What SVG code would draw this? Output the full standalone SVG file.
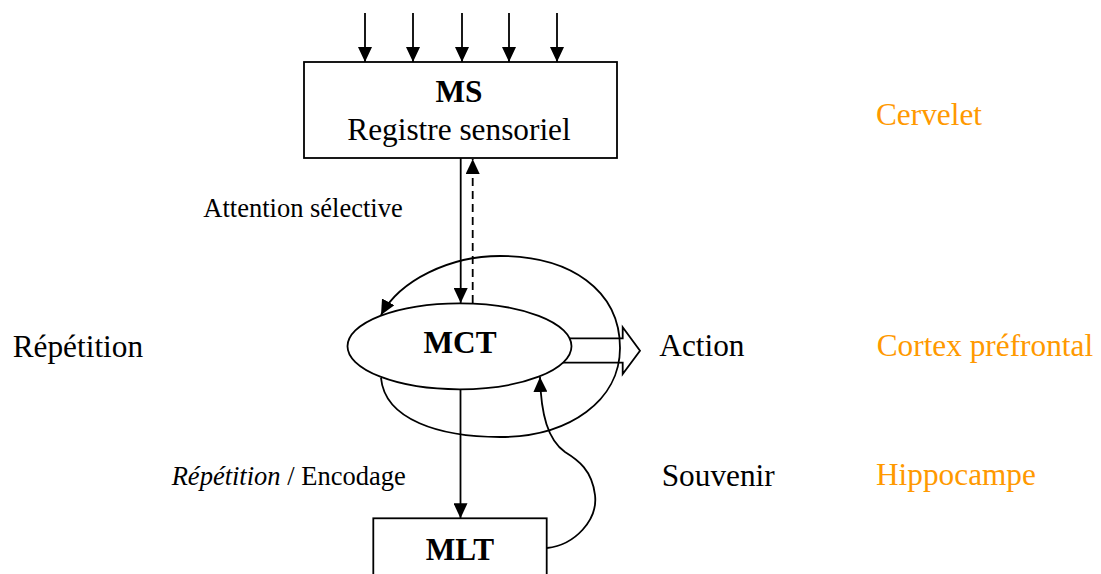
<svg xmlns="http://www.w3.org/2000/svg" width="1101" height="574" viewBox="0 0 1101 574">
<style>
text{font-family:"Liberation Serif","Times New Roman",serif;font-size:31.3px;fill:#000}
.b{font-weight:bold}
.s{font-size:26.5px}
.o{fill:#FF9900}
.ln{fill:none;stroke:#000;stroke-width:1.8}
.box{fill:#fff;stroke:#000;stroke-width:1.8}
</style>
<defs>
<marker id="ah" viewBox="0 0 15 14" refX="15" refY="7" markerWidth="15" markerHeight="14" markerUnits="userSpaceOnUse" orient="auto">
<path d="M0,0 L15,7 L0,14 Z" fill="#000"/>
</marker>
</defs>
<rect width="1101" height="574" fill="#fff"/>
<g id="connectors">
<line class="ln" x1="365" y1="13" x2="365" y2="62" marker-end="url(#ah)"/>
<line class="ln" x1="413" y1="13" x2="413" y2="62" marker-end="url(#ah)"/>
<line class="ln" x1="462" y1="13" x2="462" y2="62" marker-end="url(#ah)"/>
<line class="ln" x1="509" y1="13" x2="509" y2="62" marker-end="url(#ah)"/>
<line class="ln" x1="557" y1="13" x2="557" y2="62" marker-end="url(#ah)"/>
<line class="ln" x1="460.7" y1="158" x2="460.7" y2="303" marker-end="url(#ah)"/>
<line class="ln" x1="472.7" y1="303" x2="472.7" y2="159" stroke-dasharray="8,5" marker-end="url(#ah)"/>
<polygon class="ln" points="560,338.3 622.7,338.3 622.7,327.3 640,350.7 622.7,374 622.7,362.7 560,362.7"/>
<line class="ln" x1="460.5" y1="389" x2="460.5" y2="518.3" marker-end="url(#ah)"/>
</g>
<g id="MCT">
<ellipse class="box" cx="459.5" cy="346.3" rx="112" ry="43"/>
<text class="b" x="460" y="353.3" text-anchor="middle">MCT</text>
</g>
<g id="loops">
<path class="ln" d="M381,378 C385,420 440,437 500,437 C570,437 620,400 620,348 C620,290 570,256 500,256 C450,256 400,280 381,315" marker-end="url(#ah)"/>
<path class="ln" d="M547,548 C575,545 598,520 595,495 C592,470 578,460 565,452 C548,440 541,415 540,377" marker-end="url(#ah)"/>
</g>
<g id="MS">
<rect class="box" x="304" y="62" width="313" height="96"/>
<text class="b" x="459" y="102" text-anchor="middle">MS</text>
<text x="459" y="140" text-anchor="middle">Registre sensoriel</text>
</g>
<g id="MLT">
<rect class="box" x="373.3" y="518.3" width="173.4" height="80"/>
<text class="b" x="460" y="560" text-anchor="middle">MLT</text>
</g>
<g id="labels">
<text class="s" x="203.3" y="216.7">Attention sélective</text>
<text x="12.7" y="356.7">Répétition</text>
<text x="659.3" y="356">Action</text>
<text class="s" x="171.7" y="485"><tspan font-style="italic">Répétition</tspan> / Encodage</text>
<text x="661.7" y="486">Souvenir</text>
<text class="o" x="876" y="125">Cervelet</text>
<text class="o" x="876.7" y="356">Cortex préfrontal</text>
<text class="o" x="876" y="485">Hippocampe</text>
</g>
</svg>
